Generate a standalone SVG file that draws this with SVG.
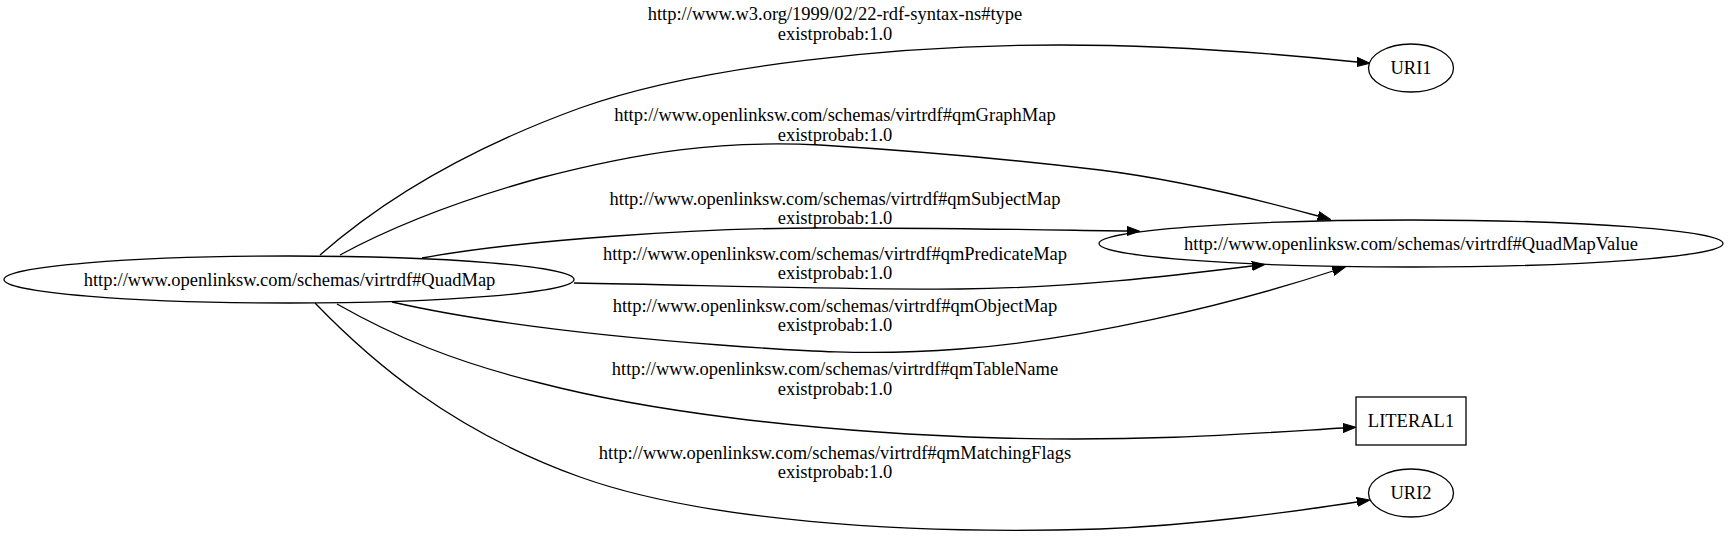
<svg xmlns="http://www.w3.org/2000/svg" width="1728" height="539" viewBox="0 0 1728 539">
<style>
  .nd { fill: none; stroke: #000; stroke-width: 1.3; }
  .ed { fill: none; stroke: #000; stroke-width: 1.3; marker-end: url(#ah); }
  text { font-family: "Liberation Serif", "Times New Roman", serif; font-size: 18.5px; fill: #000; text-anchor: middle; }
</style>
<defs>
  <marker id="ah" markerUnits="userSpaceOnUse" viewBox="0 0 13 10" refX="0" refY="5" markerWidth="13" markerHeight="10" orient="auto">
    <path d="M0,0.5 L13,5 L0,9.5 z" fill="#000" stroke="#000" stroke-width="1"/>
  </marker>
</defs>
<rect x="0" y="0" width="1728" height="539" fill="#fff"/>

<g id="connectors">
  <g id="e-type">
    <path class="ed" d="M320,255 C385,198 470,148 580,108 C700,65 900,45 1060,45 C1180,45 1280,54 1357,62"/>
    <text x="835" y="20">http://www.w3.org/1999/02/22-rdf-syntax-ns#type</text>
    <text x="835" y="40">existprobab:1.0</text>
  </g>
  <g id="e-graph">
    <path class="ed" d="M340,255 C390,228 450,203 540,178 C640,152 720,140 820,145 C900,150 1000,158 1100,170 C1180,180 1260,200 1318,216"/>
    <text x="835" y="121">http://www.openlinksw.com/schemas/virtrdf#qmGraphMap</text>
    <text x="835" y="140.5">existprobab:1.0</text>
  </g>
  <g id="e-subject">
    <path class="ed" d="M422,258 C520,240 700,228 820,228 C950,228 1050,230 1127,231"/>
    <text x="835" y="204.5">http://www.openlinksw.com/schemas/virtrdf#qmSubjectMap</text>
    <text x="835" y="224">existprobab:1.0</text>
  </g>
  <g id="e-predicate">
    <path class="ed" d="M574,283 C700,285 850,290 960,289 C1070,288 1170,276 1252,266"/>
    <text x="835" y="259.5">http://www.openlinksw.com/schemas/virtrdf#qmPredicateMap</text>
    <text x="835" y="279">existprobab:1.0</text>
  </g>
  <g id="e-object">
    <path class="ed" d="M392,302 C480,322 600,336 720,345 C800,351 870,356 960,349 C1080,340 1230,305 1333,271"/>
    <text x="835" y="311.5">http://www.openlinksw.com/schemas/virtrdf#qmObjectMap</text>
    <text x="835" y="331">existprobab:1.0</text>
  </g>
  <g id="e-table">
    <path class="ed" d="M337,304 C395,337 455,362 540,383 C640,409 800,432 1000,438 C1150,442 1260,433 1343,428"/>
    <text x="835" y="375">http://www.openlinksw.com/schemas/virtrdf#qmTableName</text>
    <text x="835" y="394.5">existprobab:1.0</text>
  </g>
  <g id="e-flags">
    <path class="ed" d="M315,303 C370,360 450,430 580,477 C700,520 900,535 1100,529 C1200,525 1290,512 1357,502"/>
    <text x="835" y="458.5">http://www.openlinksw.com/schemas/virtrdf#qmMatchingFlags</text>
    <text x="835" y="478">existprobab:1.0</text>
  </g>
</g>

<g id="n-quadmap">
  <ellipse class="nd" cx="289" cy="279.5" rx="285" ry="23.5"/>
  <text x="289.5" y="285.5">http://www.openlinksw.com/schemas/virtrdf#QuadMap</text>
</g>
<g id="n-quadmapvalue">
  <ellipse class="nd" cx="1411" cy="243.5" rx="312" ry="23.5"/>
  <text x="1411" y="249.5">http://www.openlinksw.com/schemas/virtrdf#QuadMapValue</text>
</g>
<g id="n-uri1">
  <ellipse class="nd" cx="1411" cy="68" rx="42.5" ry="24"/>
  <text x="1411" y="74">URI1</text>
</g>
<g id="n-literal1">
  <rect class="nd" x="1356" y="397" width="110" height="48"/>
  <text x="1411" y="427">LITERAL1</text>
</g>
<g id="n-uri2">
  <ellipse class="nd" cx="1411" cy="493" rx="42.5" ry="24"/>
  <text x="1411" y="499">URI2</text>
</g>
</svg>
